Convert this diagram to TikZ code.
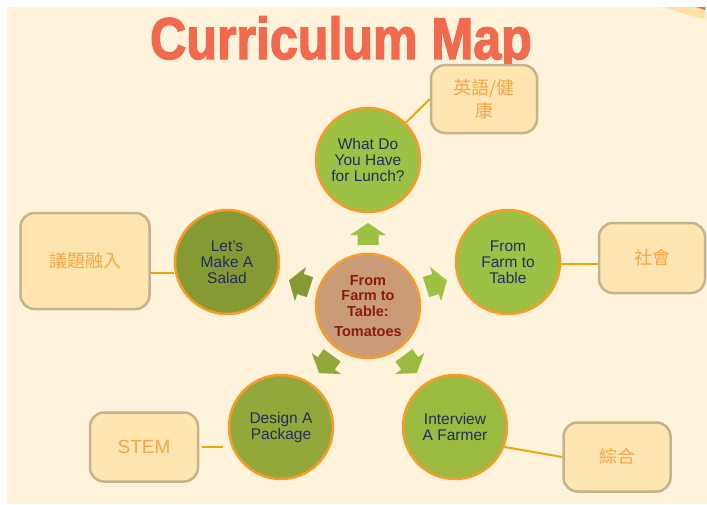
\documentclass[tikz,border=0pt]{standalone}
\usepackage{fontspec}
\setmainfont{Liberation Sans}
\newfontfamily\cjk{Noto Sans CJK TC}
\newfontfamily\titlefont[FakeStretch=0.85,FakeBold=2.2]{Liberation Sans Bold}
\definecolor{cream}{HTML}{FFF3DC}
\definecolor{swoosh}{HTML}{FFE1A6}
\definecolor{coral}{HTML}{F26A4D}
\definecolor{leaf}{HTML}{9DC144}
\definecolor{salad}{HTML}{869A34}
\definecolor{pack}{HTML}{93A83A}
\definecolor{farmer}{HTML}{9CB940}
\definecolor{tan}{HTML}{C99B78}
\definecolor{rim}{HTML}{F99B2A}
\definecolor{navy}{HTML}{1F2F5C}
\definecolor{maroon}{HTML}{8B1A12}
\definecolor{boxfill}{HTML}{FFE5B0}
\definecolor{boxrim}{HTML}{C5B38C}
\definecolor{linkgold}{HTML}{E8A80C}
\definecolor{cjkorange}{HTML}{F9A54A}
\tikzset{
	topic/.style={circle, draw=rim, line width=2.5pt, minimum size=104pt, inner sep=0pt, align=center, text=navy, font=\fontsize{15.5}{16}\selectfont},
	subject/.style={rectangle, rounded corners=14pt, draw=boxrim, fill=boxfill, line width=2.5pt, align=center, text=cjkorange, font=\cjk\fontsize{18}{23}\selectfont},
	link/.style={draw=linkgold, line width=2pt}
}
\begin{document}
\begin{tikzpicture}[x=1pt,y=-1pt]
	\fill[white] (0,0) rectangle (707,504);
	\fill[cream] (7,7) rectangle (707,504);
	\useasboundingbox (0,0) rectangle (707,504);
	% corner decoration
	\fill[swoosh] (665,7) .. controls (680,13) and (694,17) .. (705,19) -- (705,7) -- cycle;
	\fill[coral] (696,7) -- (705,7) -- (705,10) .. controls (701,9) .. (696,7);
	\node[anchor=base, text=coral, font=\titlefont\fontsize{59}{59}\selectfont] (title) at (341,59) {Curriculum Map};
	% topics
	\node[topic, fill=tan, text=maroon, font=\bfseries\fontsize{14.5}{15.5}\selectfont] (hub) at (368,306) {From\\Farm to\\Table:\\[5pt]Tomatoes};
	\node[topic, fill=leaf] (lunch) at (368,160) {What Do\\You Have\\for Lunch?};
	\node[topic, fill=leaf] (table) at (508,262) {From\\Farm to\\Table};
	\node[topic, fill=salad] (salad) at (227,262) {Let's\\Make A\\Salad};
	\node[topic, fill=pack] (package) at (281,427) {Design A\\Package};
	\node[topic, fill=farmer] (farmer) at (455,427) {Interview\\A Farmer};
	% arrows out of the hub
	\foreach \a/\c in {90/leaf,162/salad,18/leaf,234/pack,306/farmer}
		\fill[\c, shift={(hub.center)}, rotate=\a] (61,-10.5) -- (71,-10.5) -- (71,-18) -- (83,0) -- (71,18) -- (71,10.5) -- (61,10.5) -- cycle;
	% subjects
	\node[subject, minimum width=106pt, minimum height=68pt] (health) at (484,99) {英語/健\\康};
	\node[subject, minimum width=129pt, minimum height=96pt] (issue) at (85,261) {議題融入};
	\node[subject, minimum width=106pt, minimum height=70pt] (social) at (652,258) {社會};
	\node[subject, minimum width=107pt, minimum height=69pt] (mixed) at (617,457) {綜合};
	\node[subject, minimum width=108pt, minimum height=69pt, font=\fontsize{19}{22}\selectfont] (stem) at (144,447) {STEM};
	% links
	\draw[link] (health.west) -- (lunch);
	\draw[link] ([yshift=-12pt]issue.east) -- ([yshift=-12pt]issue.east -| salad.west);
	\draw[link] ([yshift=-6pt]social.west) -- ([yshift=-6pt]social.west -| table.east);
	\draw[link, shorten <=3pt, shorten >=5pt] (stem.east) -- (stem.east -| package.west);
	\draw[link] (farmer.-22) -- (mixed.west);
\end{tikzpicture}
\end{document}
